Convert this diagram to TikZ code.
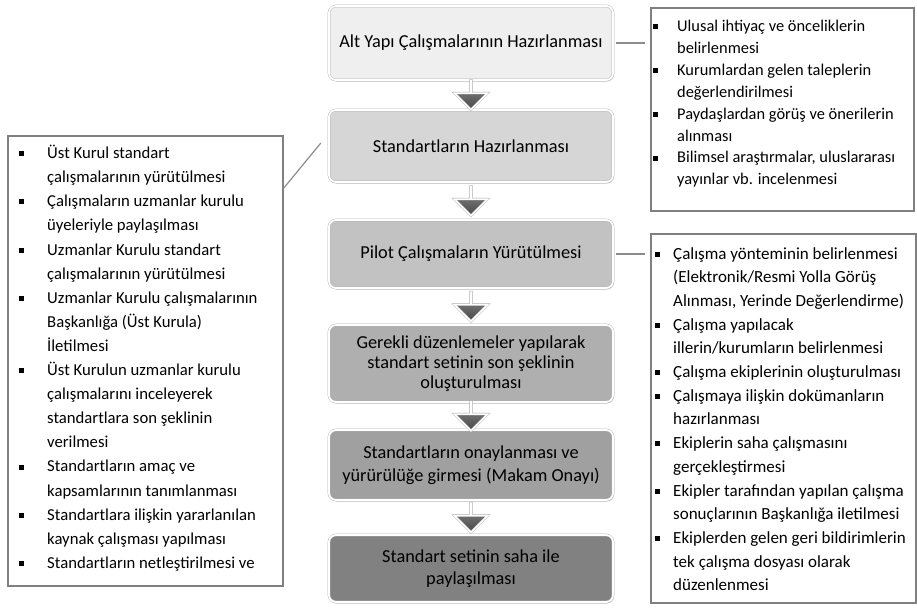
\documentclass[tikz,border=0pt]{standalone}
\usepackage{fontspec}
\setmainfont{Carlito}
\usetikzlibrary{shapes.arrows,shadows,calc}
\definecolor{cA}{HTML}{EFEFEF}
\definecolor{cB}{HTML}{D6D6D6}
\definecolor{cC}{HTML}{C2C2C2}
\definecolor{cD}{HTML}{AFAFAF}
\definecolor{cE}{HTML}{A0A0A0}
\definecolor{cF}{HTML}{818181}
\newcommand{\bul}[1]{\makebox[#1][l]{\raisebox{2.4pt}{\rule{5pt}{5pt}}}}
\newcommand{\cnt}[1]{\hspace*{#1}}
\begin{document}
\begin{tikzpicture}[x=1pt,y=-1pt,
  stage/.style={rounded corners=7pt, draw=black!30, double=white, double distance=1.8pt,
    minimum width=284pt, align=center, inner sep=0pt,
    font=\fontsize{18.3}{22}\selectfont,
    drop shadow={shadow xshift=1pt, shadow yshift=-1.5pt, opacity=0.35}},
  darr/.style={single arrow, shape border rotate=270, minimum height=29pt,
    minimum width=33pt, single arrow head extend=9pt, inner sep=0pt,
    draw=black!35, double=white, double distance=1.6pt,
    top color=black!45, bottom color=black!72},
  tbox/.style={draw=black!50, line width=1.8pt, fill=white, anchor=north west,
    inner sep=0pt, drop shadow={shadow xshift=1pt, shadow yshift=-1.5pt, opacity=0.4}},
  list/.style={align=left, inner sep=0pt, anchor=north west},
  conn/.style={draw=black!45, line width=1.2pt}]
\useasboundingbox (0,0) rectangle (917,611);
\fill[white] (0,0) rectangle (917,611);

% central stages
\node[stage, fill=cA, minimum height=74pt] (b1) at (471,43) {Alt Yapı Çalışmalarının Hazırlanması};
\node[stage, fill=cB, minimum height=72pt] (b2) at (471,146) {Standartların Hazırlanması};
\node[stage, fill=cC, minimum height=68pt] (b3) at (471,254) {Pilot Çalışmaların Yürütülmesi};
\node[stage, fill=cD, minimum height=77pt, font=\fontsize{18.3}{20}\selectfont] (b4) at (471,363.5)
  {Gerekli düzenlemeler yapılarak\\standart setinin son şeklinin\\oluşturulması};
\node[stage, fill=cE, minimum height=70pt, font=\fontsize{18.3}{23}\selectfont] (b5) at (471,465)
  {Standartların onaylanması ve\\yürürülüğe girmesi (Makam Onayı)};
\node[stage, fill=cF, minimum height=67pt, font=\fontsize{18.3}{22}\selectfont] (b6) at (471,568.5)
  {Standart setinin saha ile\\paylaşılması};

% arrows
\node[darr] (a1) at ($(b1.south)!0.5!(b2.north)$) {};
\node[darr] (a2) at ($(b2.south)!0.5!(b3.north)$) {};
\node[darr] (a3) at ($(b3.south)!0.5!(b4.north)$) {};
\node[darr] (a4) at ($(b4.south)!0.5!(b5.north)$) {};
\node[darr] (a5) at ($(b5.south)!0.5!(b6.north)$) {};

% side boxes
\node[tbox, minimum width=263pt, minimum height=203pt] (rt) at (650,7) {};
\node[tbox, minimum width=275pt, minimum height=450pt] (lb) at (7,135) {};
\node[tbox, minimum width=265pt, minimum height=369pt] (rb) at (650,233) {};

\node[list, font=\fontsize{16.4}{21.9}\selectfont] (rtt) at (653,20) {%
\bul{24pt}Ulusal ihtiyaç ve önceliklerin\\
\cnt{24pt}belirlenmesi\\
\bul{24pt}Kurumlardan gelen taleplerin\\
\cnt{24pt}değerlendirilmesi\\
\bul{24pt}Paydaşlardan görüş ve önerilerin\\
\cnt{24pt}alınması\\
\bul{24pt}Bilimsel araştırmalar, uluslararası\\
\cnt{24pt}yayınlar vb. incelenmesi};

\node[list, font=\fontsize{16.7}{24.1}\selectfont] (lbt) at (19,145) {%
\bul{28pt}Üst Kurul standart\\
\cnt{28pt}çalışmalarının yürütülmesi\\
\bul{28pt}Çalışmaların uzmanlar kurulu\\
\cnt{28pt}üyeleriyle paylaşılması\\
\bul{28pt}Uzmanlar Kurulu standart\\
\cnt{28pt}çalışmalarının yürütülmesi\\
\bul{28pt}Uzmanlar Kurulu çalışmalarının\\
\cnt{28pt}Başkanlığa (Üst Kurula)\\
\cnt{28pt}İletilmesi\\
\bul{28pt}Üst Kurulun uzmanlar kurulu\\
\cnt{28pt}çalışmalarını inceleyerek\\
\cnt{28pt}standartlara son şeklinin\\
\cnt{28pt}verilmesi\\
\bul{28pt}Standartların amaç ve\\
\cnt{28pt}kapsamlarının tanımlanması\\
\bul{28pt}Standartlara ilişkin yararlanılan\\
\cnt{28pt}kaynak çalışması yapılması\\
\bul{28pt}Standartların netleştirilmesi ve};

\node[list, font=\fontsize{17}{23.7}\selectfont] (rbt) at (655,247) {%
\bul{18pt}Çalışma yönteminin belirlenmesi\\
\cnt{18pt}(Elektronik/Resmi Yolla Görüş\\
\cnt{18pt}Alınması, Yerinde Değerlendirme)\\
\bul{18pt}Çalışma yapılacak\\
\cnt{18pt}illerin/kurumların belirlenmesi\\
\bul{18pt}Çalışma ekiplerinin oluşturulması\\
\bul{18pt}Çalışmaya ilişkin dokümanların\\
\cnt{18pt}hazırlanması\\
\bul{18pt}Ekiplerin saha çalışmasını\\
\cnt{18pt}gerçekleştirmesi\\
\bul{18pt}Ekipler tarafından yapılan çalışma\\
\cnt{18pt}sonuçlarının Başkanlığa iletilmesi\\
\bul{18pt}Ekiplerden gelen geri bildirimlerin\\
\cnt{18pt}tek çalışma dosyası olarak\\
\cnt{18pt}düzenlenmesi};

% connectors
\coordinate (c1a) at ($(b1.east)+(3,0)$);
\coordinate (c1b) at ($(rt.west)+(-5,-58.5)$);
\draw[conn] (c1a) -- (c1a -| c1b);
\coordinate (c2a) at ($(lb.north east)+(0,53)$);
\coordinate (c2b) at ($(b2.west)+(-8,-3)$);
\draw[conn] (c2a) -- (c2b);
\coordinate (c3a) at ($(b3.east)+(3,0)$);
\coordinate (c3b) at ($(rb.west)+(-5,0)$);
\draw[conn] (c3a) -- (c3a -| c3b);
\end{tikzpicture}
\end{document}
